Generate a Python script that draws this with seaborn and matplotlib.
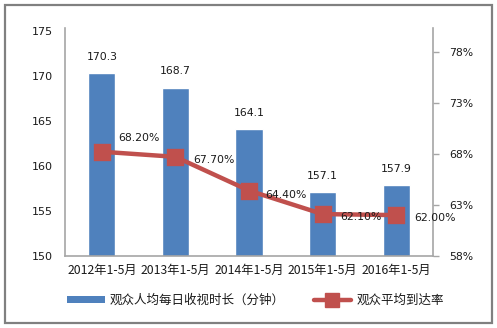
import matplotlib
matplotlib.use("Agg")
import matplotlib.pyplot as plt
import seaborn as sns
import pandas as pd
from matplotlib.patches import Rectangle
from matplotlib.lines import Line2D

periods = ["2012年1-5月", "2013年1-5月", "2014年1-5月", "2015年1-5月", "2016年1-5月"]
minutes = [170.3, 168.7, 164.1, 157.1, 157.9]
reach_pct = [68.20, 67.70, 64.40, 62.10, 62.00]
left_ticks = [150, 155, 160, 165, 170, 175]
right_ticks = [58, 63, 68, 73, 78]
bar_name = "观众人均每日收视时长（分钟）"
line_name = "观众平均到达率"

sns.set_theme(style="white")
plt.rcParams["font.family"] = ["DejaVu Sans", "Noto Sans CJK SC"]
cjk = ["Noto Sans CJK SC", "DejaVu Sans"]

BLUE = "#4F81BD"
RED = "#C0504D"
TXT = "#1a1a1a"
AXC = "#A6A6A6"

df = pd.DataFrame({"period": periods, "minutes": minutes, "reach": reach_pct})

fig = plt.figure(figsize=(4.97, 3.28), dpi=100)
ax = fig.add_axes([0.131, 0.2195, 0.74, 0.695])

sns.barplot(data=df, x="period", y="minutes", color=BLUE, width=0.37,
            saturation=1, ax=ax)
ax.set_ylim(150, 175.3)
ax.set_yticks(left_ticks)
ax.set_xlim(-0.5, 4.5)
ax.set_xlabel("")
ax.set_ylabel("")
for s in ["top", "right"]:
    ax.spines[s].set_visible(False)
for s in ["left", "bottom"]:
    ax.spines[s].set_color(AXC)
    ax.spines[s].set_linewidth(1.2)
ax.tick_params(axis="y", length=0, pad=9, labelsize=8, labelcolor=TXT)
ax.tick_params(axis="x", length=0, pad=6, labelcolor=TXT)
for lab in ax.get_xticklabels():
    lab.set_fontfamily(cjk)
    lab.set_fontsize(8.8)

for i, v in enumerate(minutes):
    ax.annotate(f"{v:.1f}", (i, v), xytext=(0, 8), textcoords="offset points",
                ha="center", va="bottom", fontsize=7.8, color=TXT)

ax2 = ax.twinx()
sns.pointplot(data=df, x="period", y="reach", color=RED, markers="s",
              markersize=9.5, linewidth=3.2, ax=ax2)
ax2.set_ylim(58, 80.3)
ax2.set_yticks(right_ticks)
ax2.set_yticklabels([f"{t}%" for t in right_ticks])
ax2.set_xlim(-0.5, 4.5)
ax2.set_ylabel("")
ax2.set_xlabel("")
for s in ["top", "left", "bottom"]:
    ax2.spines[s].set_visible(False)
ax2.spines["right"].set_color(AXC)
ax2.spines["right"].set_linewidth(1.2)
ax2.tick_params(axis="y", length=4, width=1, color=AXC, pad=8,
                labelsize=7.8, labelcolor=TXT)

offsets = [(12, 10), (13, -2), (12, -3), (13, -2), (13, -2)]
for i, (v, off) in enumerate(zip(reach_pct, offsets)):
    ax2.annotate(f"{v:.2f}%", (i, v), xytext=off, textcoords="offset points",
                 ha="left", va="center", fontsize=7.8, color=TXT)

handles = [Rectangle((0, 0), 1, 1, facecolor=BLUE, edgecolor="none"),
           Line2D([0], [0], color=RED, lw=3.2, marker="s", markersize=9.5)]
leg = fig.legend(handles, [bar_name, line_name], loc="center left",
                 bbox_to_anchor=(0.113, 0.083), ncol=2, frameon=False,
                 handlelength=3.0, handleheight=0.45, columnspacing=2.3,
                 handletextpad=0.4, prop={"family": cjk, "size": 9})
for t in leg.get_texts():
    t.set_color(TXT)

fig.add_artist(Rectangle((0.011, 0.015), 0.978, 0.97, transform=fig.transFigure,
                         fill=False, edgecolor="#808080", linewidth=1.6))

fig.savefig("out.png", dpi=100, facecolor="white")
